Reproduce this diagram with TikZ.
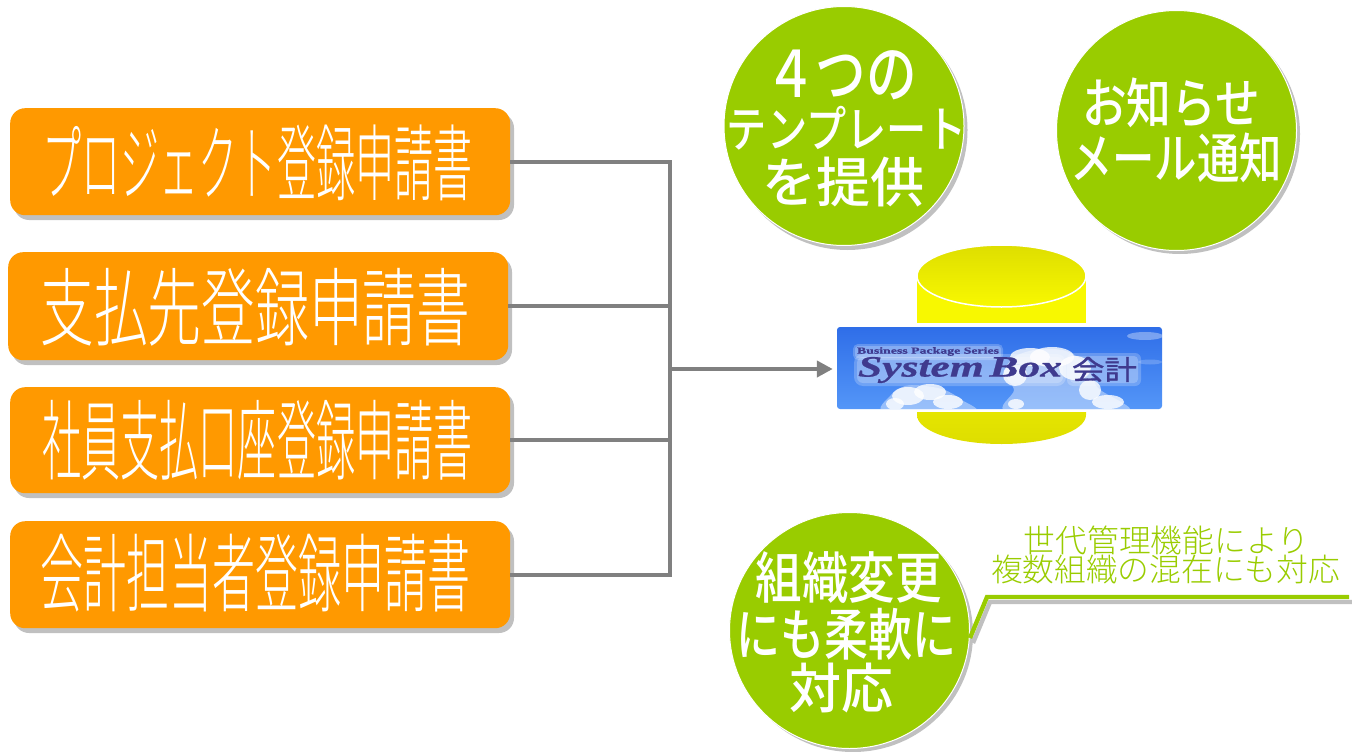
\documentclass[tikz,border=0pt]{standalone}
\usepackage{graphicx}
\usepackage{fontspec}
\newfontfamily\cjk{Noto Sans CJK JP Light}
\newfontfamily\cjkb{Noto Sans CJK JP Medium}
\newfontfamily\cjkm[FakeBold=1]{Noto Sans CJK JP}
\newfontfamily\logoserif[FakeBold=.6]{Liberation Serif}
\newcommand\tx[3]{\resizebox*{#1pt}{#2pt}{#3}}
\definecolor{boxorange}{HTML}{FF9900}
\definecolor{leaf}{HTML}{99CC00}
\definecolor{shadowgrey}{HTML}{C0C0C0}
\definecolor{bus}{HTML}{808080}
\definecolor{logoink}{HTML}{3F3A8E}
\definecolor{cylbright}{HTML}{F8F800}
\definecolor{cyldark}{HTML}{DEDE00}
\definecolor{skytop}{HTML}{2F6EE8}
\definecolor{skybot}{HTML}{5496F8}
\tikzset{
  formbox/.style={draw=none,fill=boxorange,rounded corners=15pt,minimum height=#1,inner sep=0pt,minimum width=500pt,text=white},
  formshadow/.style={fill=shadowgrey,rounded corners=15pt,draw=none},
  bubble/.style={fill=leaf,draw=white,line width=1pt,ellipse,inner sep=0pt,text=white,align=center},
  busline/.style={draw=bus,line width=4.4pt,line join=miter},
  haze/.style={fill=white,draw=none,opacity=.4},
  puff/.style={fill=white,draw=none,opacity=.8},
  halo/.style={fill=white,draw=none,opacity=.22},
  lbl/.style={inner sep=0pt,outer sep=0pt},
}
\usetikzlibrary{shapes.geometric,arrows.meta}
\begin{document}
\begin{tikzpicture}[x=1pt,y=-1pt]
\useasboundingbox (0,0) rectangle (1352,752);
\coordinate (busmid) at (670,369);
% shadows
\fill[formshadow] (14,113) rectangle (514,220);
\fill[formshadow] (12,257) rectangle (512,365);
\fill[formshadow] (14,392) rectangle (514,498);
\fill[formshadow] (14,526) rectangle (514,633);
% boxes
\node[formbox=107pt,anchor=north west] (b1) at (10,108) {};
\node[formbox=108pt,anchor=north west] (b2) at (8,252) {};
\node[formbox=106pt,anchor=north west] (b3) at (10,387) {};
\node[formbox=107pt,anchor=north west] (b4) at (10,521) {};
\node[lbl,text=white] (t1) at (257.5,163) {\tx{430}{76}{\cjk プロジェクト登録申請書}};
\node[lbl,text=white] (t2) at (255.5,307) {\tx{430}{78}{\cjk 支払先登録申請書}};
\node[lbl,text=white] (t3) at (257.5,440) {\tx{430}{80}{\cjk 社員支払口座登録申請書}};
\node[lbl,text=white] (t4) at (255.5,573) {\tx{430}{78}{\cjk 会計担当者登録申請書}};
% cylinder
\path[top color=cylbright,bottom color=cyldark]
  (917,325) -- (917,415) arc[start angle=180,end angle=360,x radius=84.5,y radius=-29] -- (1086,325) -- cycle;
\path[fill=cylbright] (917,276) rectangle (1086,325);
\path[top color=cyldark,bottom color=cylbright,draw=white,line width=1.5pt]
  (1001.5,276) ellipse[x radius=84.5,y radius=31];
\fill[white] (910,323) rectangle (1095,412);
% logo
\node[draw=none,rounded corners=3pt,minimum width=325pt,minimum height=82pt,inner sep=0pt,
      top color=skytop,bottom color=skybot] (logo) at (999.5,368) {};
\begin{scope}
  \clip[rounded corners=3pt] (837,327) rectangle (1162,409);
  % right cloud: a pale body with a bright ridge
  \fill[haze] plot[smooth cycle] coordinates {(1008,412) (1014,390) (1004,372) (1016,356) (1040,349) (1066,351) (1086,364) (1098,388) (1128,412)};
  \fill[puff] (1030,357) ellipse[x radius=20,y radius=9];
  \fill[puff] (1052,357) ellipse[x radius=22,y radius=10];
  \fill[puff] (1075,368) ellipse[x radius=16,y radius=12];
  \fill[puff] (1015,375) ellipse[x radius=12,y radius=11];
  \fill[puff] (1090,390) ellipse[x radius=11,y radius=10];
  \fill[puff] (1108,402) ellipse[x radius=16,y radius=7];
  \fill[puff] (1016,404) ellipse[x radius=8,y radius=5];
  % left cloud
  \fill[haze] plot[smooth cycle] coordinates {(885,412) (890,396) (905,386) (925,386) (945,390) (962,400) (974,412)};
  \fill[puff] (908,396) ellipse[x radius=16,y radius=9];
  \fill[puff] (930,392) ellipse[x radius=16,y radius=8];
  \fill[puff] (948,402) ellipse[x radius=15,y radius=7];
  \fill[puff] (895,404) ellipse[x radius=9,y radius=6];
  \fill[white,opacity=.35] (1145,336) ellipse[x radius=18,y radius=4];
  \fill[white,opacity=.2] (1150,362) ellipse[x radius=12,y radius=2.5];
  % soft glow round the logotype
  \fill[halo,rounded corners=5pt] (853,344) rectangle (1003,360);
  \fill[halo,rounded corners=3pt] (855,346) rectangle (1001,358);
  \fill[halo,rounded corners=9pt] (854,354) rectangle (1066,386);
  \fill[halo,rounded corners=6pt] (857,357) rectangle (1063,383);
  \fill[halo,rounded corners=6pt] (1067,353) rectangle (1141,386);
  \fill[halo,rounded corners=4pt] (1070,356) rectangle (1138,383);
\end{scope}
\node[lbl,text=logoink] (lg1) at (928,351.5) {\tx{142}{8.5}{\logoserif\bfseries Business Package Series}};
\node[lbl,text=logoink] (lg2) at (960,370) {\tx{204}{26}{\logoserif\bfseries\itshape System\hspace{-.12em} Box}};
\node[lbl,text=logoink] (lg3) at (1104.5,369.5) {\tx{65}{25}{\cjkm 会計}};
% bus
\draw[busline] (b1.east) -| (busmid);
\draw[busline] (b4.east) -| (busmid);
\draw[busline] (b2.east) -- (b2.east -| busmid);
\draw[busline] (b3.east) -- (b3.east -| busmid);
\draw[busline,-{Triangle[length=16pt,width=16pt]},shorten >=4pt] (busmid) -- (logo.west |- busmid);
% bubbles
\fill[shadowgrey] (847.5,130) ellipse[x radius=120,y radius=120];
\node[bubble,minimum width=240pt,minimum height=239pt] (c1) at (844,126) {};
\fill[shadowgrey] (1180,134) ellipse[x radius=120,y radius=120];
\node[bubble,minimum width=240pt,minimum height=240pt] (c2) at (1176.5,130.5) {};
\fill[shadowgrey] (853,634) ellipse[x radius=120,y radius=118];
\node[bubble,minimum width=240pt,minimum height=236pt] (c3) at (849.5,630.5) {};
\node[lbl,text=white] (c1a) at (841,75) {\tx{152}{50}{\cjkb ４つの}};
\node[lbl,text=white] (c1b) at (847,128) {\tx{240}{44}{\cjkb テンプレート}};
\node[lbl,text=white] (c1c) at (843.5,182) {\tx{162}{50}{\cjkb を提供}};
\node[lbl,text=white] (c2a) at (1171,103) {\tx{178}{50}{\cjkb お知らせ}};
\node[lbl,text=white] (c2b) at (1176,158) {\tx{212}{50}{\cjkb メール通知}};
\node[lbl,text=white] (c3a) at (848.5,578) {\tx{186}{52}{\cjkb 組織変更}};
\node[lbl,text=white] (c3b) at (846.5,634) {\tx{220}{52}{\cjkb にも柔軟に}};
\node[lbl,text=white] (c3c) at (841,688) {\tx{104}{50}{\cjkb 対応}};
% callout
\coordinate (ca) at (970,638);
\coordinate (cb) at (987,597);
\coordinate (cc) at (1349,597);
\draw[shadowgrey,line width=4.4pt,line join=miter] ([shift={(3,5)}]ca) -- ([shift={(3,5)}]cb) -- ([shift={(3,5)}]cc);
\draw[leaf,line width=4.4pt,line join=miter] (ca) -- (cb) -- (cc);
\node[lbl,text=leaf] (n1) at (1166.5,540) {\tx{285}{29}{\cjk 世代管理機能により}};
\node[lbl,text=leaf] (n2) at (1165.5,570) {\tx{349}{29}{\cjk 複数組織の混在にも対応}};
\end{tikzpicture}
\end{document}
